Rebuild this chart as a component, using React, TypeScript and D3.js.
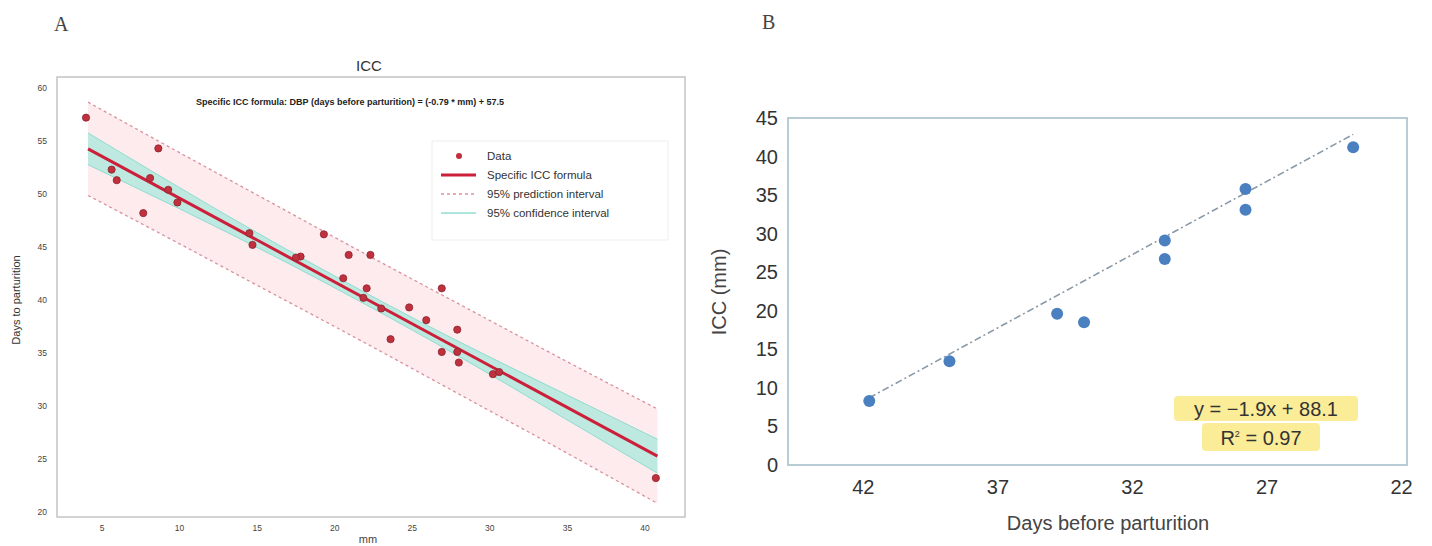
import React from "react";
import * as d3 from "d3";

// ---------- Panel A: ICC (mm) vs days to parturition ----------
const iccMm = [
  3.97, 8.63, 5.62, 5.95, 8.1, 9.27, 9.86, 7.66, 14.5, 14.7,
  19.3, 20.9, 22.3, 17.8, 20.55, 22.06, 21.85, 23.0, 24.8, 25.9,
  26.9, 23.6, 27.9, 26.9, 27.9, 28.0, 30.2, 30.6, 40.7, 17.5,
];
const daysToParturition = [
  57.2, 54.3, 52.3, 51.3, 51.5, 50.4, 49.2, 48.2, 46.3, 45.2,
  46.2, 44.25, 44.25, 44.1, 42.05, 41.1, 40.2, 39.2, 39.3, 38.1,
  41.1, 36.3, 37.2, 35.1, 35.1, 34.1, 33.0, 33.2, 23.2, 44.0,
];
const fitSlope = -0.79;
const fitIntercept = 57.5;
const fitRange = [4.1, 40.8];
// interval half-widths (days) along mm
const bandMm = [4.1, 10, 16, 22, 28, 34, 40.8];
const ciHalf = [1.5, 1.0, 0.65, 0.55, 0.7, 1.1, 1.6];
const piHalf = [4.4, 4.3, 4.25, 4.2, 4.25, 4.3, 4.45];
const aYTicks = [20, 25, 30, 35, 40, 45, 50, 55, 60];
const aXTicks = [5, 10, 15, 20, 25, 30, 35, 40];
const legendItems = [
  "Data",
  "Specific ICC formula",
  "95% prediction interval",
  "95% confidence interval",
];

// ---------- Panel B: days before parturition vs ICC (mm) ----------
const daysBefore = [41.78, 38.8, 34.8, 33.8, 30.8, 30.8, 27.8, 27.8, 23.8];
const iccValues = [8.3, 13.45, 19.6, 18.5, 29.1, 26.7, 35.8, 33.1, 41.2];
const trendSlope = -1.9;
const trendIntercept = 88.1;
const rSquared = 0.97;
const bYTicks = [0, 5, 10, 15, 20, 25, 30, 35, 40, 45];
const bXTicks = [42, 37, 32, 27, 22];

const sans = "'Liberation Sans', Arial, Helvetica, sans-serif";

function PanelA() {
  const x = d3.scaleLinear().domain([5, 40]).range([102, 645]);
  const y = d3.scaleLinear().domain([20, 60]).range([512, 88]);
  const fit = (m: number) => fitSlope * m + fitIntercept;

  const band = (half: number[]) =>
    d3
      .area<number>()
      .x((_, i) => x(bandMm[i]))
      .y0((_, i) => y(fit(bandMm[i]) - half[i]))
      .y1((_, i) => y(fit(bandMm[i]) + half[i]))
      .curve(d3.curveNatural)(bandMm) as string;

  const edge = (half: number[], sign: number) =>
    d3
      .line<number>()
      .x((_, i) => x(bandMm[i]))
      .y((_, i) => y(fit(bandMm[i]) + sign * half[i]))
      .curve(d3.curveNatural)(bandMm) as string;

  const fitLine = d3
    .line<number>()
    .x((m) => x(m))
    .y((m) => y(fit(m)))(fitRange) as string;

  const plot = { l: 57, t: 77, r: 685, b: 517 };
  const legendY = [156, 175, 194, 213];

  return (
    <g>
      <text x={54} y={31} fontFamily="'Liberation Serif', 'DejaVu Serif', serif" fontSize={20} fill="#444">
        A
      </text>
      <text x={369} y={71} textAnchor="middle" fontFamily={sans} fontSize={15} fill="#333">
        ICC
      </text>
      <rect x={plot.l} y={plot.t} width={plot.r - plot.l} height={plot.b - plot.t} fill="#fff" stroke="#c4c4c4" strokeWidth={1.5} />

      {/* prediction interval */}
      <path d={band(piHalf)} fill="#fde6ea" opacity={0.8} />
      <path d={edge(piHalf, 1)} fill="none" stroke="#d9929d" strokeWidth={1.3} strokeDasharray="3,3" />
      <path d={edge(piHalf, -1)} fill="none" stroke="#d9929d" strokeWidth={1.3} strokeDasharray="3,3" />
      {/* confidence interval */}
      <path d={band(ciHalf)} fill="#a8e8dc" opacity={0.75} />
      <path d={edge(ciHalf, 1)} fill="none" stroke="#8fdccf" strokeWidth={1} />
      <path d={edge(ciHalf, -1)} fill="none" stroke="#8fdccf" strokeWidth={1} />
      {/* regression line */}
      <path d={fitLine} fill="none" stroke="#cc1f3a" strokeWidth={3} />

      {iccMm.map((m, i) => (
        <circle key={i} cx={x(m)} cy={y(daysToParturition[i])} r={3.6} fill="#c0303d" stroke="#8a2630" strokeWidth={0.8} />
      ))}

      <text x={350} y={105} textAnchor="middle" fontFamily={sans} fontSize={9} fontWeight="bold" fill="#222">
        Specific ICC formula: DBP (days before parturition)  = (-0.79 * mm) + 57.5
      </text>

      {/* legend */}
      <rect x={432} y={141} width={236} height={99} fill="#fff" fillOpacity={0.85} stroke="#eeeeee" />
      <circle cx={459} cy={legendY[0]} r={3} fill="#c0303d" />
      <line x1={441} x2={476} y1={legendY[1]} y2={legendY[1]} stroke="#cc1f3a" strokeWidth={3} />
      <line x1={441} x2={476} y1={legendY[2]} y2={legendY[2]} stroke="#d9929d" strokeWidth={1.3} strokeDasharray="3,3" />
      <line x1={441} x2={476} y1={legendY[3]} y2={legendY[3]} stroke="#8fdccf" strokeWidth={1.3} />
      {legendItems.map((t, i) => (
        <text key={t} x={487} y={legendY[i] + 4} fontFamily={sans} fontSize={11.5} fill="#333">
          {t}
        </text>
      ))}

      {aYTicks.map((v) => (
        <text key={v} x={47} y={y(v) + 3} textAnchor="end" fontFamily={sans} fontSize={8.5} fill="#444">
          {v}
        </text>
      ))}
      {aXTicks.map((v) => (
        <text key={v} x={x(v)} y={531} textAnchor="middle" fontFamily={sans} fontSize={8.5} fill="#444">
          {v}
        </text>
      ))}
      <text x={368} y={543} textAnchor="middle" fontFamily={sans} fontSize={11} fill="#444">
        mm
      </text>
      <text transform="translate(20,300) rotate(-90)" textAnchor="middle" fontFamily={sans} fontSize={11} fill="#333">
        Days to parturition
      </text>
    </g>
  );
}

function PanelB() {
  const x = d3.scaleLinear().domain([44.8, 21.8]).range([788, 1407]);
  const y = d3.scaleLinear().domain([0, 45]).range([465, 118]);
  const ext = d3.extent(daysBefore) as [number, number];
  const trend = d3
    .line<number>()
    .x((d) => x(d))
    .y((d) => y(trendSlope * d + trendIntercept))([ext[1], ext[0]]) as string;

  return (
    <g>
      <text x={762} y={29} fontFamily="'Liberation Serif', 'DejaVu Serif', serif" fontSize={20} fill="#444">
        B
      </text>
      <rect x={788} y={118} width={619} height={347} fill="#fff" stroke="#b9ccd6" strokeWidth={2} />
      <path d={trend} fill="none" stroke="#8a9aa8" strokeWidth={1.6} strokeDasharray="7,3,2,3" />
      {daysBefore.map((d, i) => (
        <circle key={i} cx={x(d)} cy={y(iccValues[i])} r={6} fill="#4a80c0" />
      ))}

      <rect x={1174} y={396} width={184} height={25} fill="#fbec98" rx={4} />
      <rect x={1202} y={423} width={118} height={28} fill="#fbec98" rx={4} />
      <text x={1266} y={416} textAnchor="middle" fontFamily={sans} fontSize={20} fill="#333">
        {`y = −${Math.abs(trendSlope).toFixed(1)}x + ${trendIntercept}`}
      </text>
      <text x={1261} y={445} textAnchor="middle" fontFamily={sans} fontSize={20} fill="#333">
        R<tspan dy={-8} fontSize={9}>2</tspan>
        <tspan dy={8}>{` = ${rSquared}`}</tspan>
      </text>

      {bYTicks.map((v) => (
        <text key={v} x={778} y={y(v) + 7} textAnchor="end" fontFamily={sans} fontSize={20} fill="#333">
          {v}
        </text>
      ))}
      {bXTicks.map((v) => (
        <text key={v} x={x(v)} y={494} textAnchor="middle" fontFamily={sans} fontSize={20} fill="#333">
          {v}
        </text>
      ))}
      <text x={1108} y={530} textAnchor="middle" fontFamily={sans} fontSize={20} fill="#444">
        Days before parturition
      </text>
      <text transform="translate(726,292) rotate(-90)" textAnchor="middle" fontFamily={sans} fontSize={20} fill="#444">
        ICC (mm)
      </text>
    </g>
  );
}

export default function App() {
  return (
    <svg
      width={1432}
      height={546}
      viewBox="0 0 1432 546"
      style={{ position: "absolute", left: 0, top: 0, background: "#fff" }}
    >
      <rect width={1432} height={546} fill="#fff" />
      <PanelA />
      <PanelB />
    </svg>
  );
}
